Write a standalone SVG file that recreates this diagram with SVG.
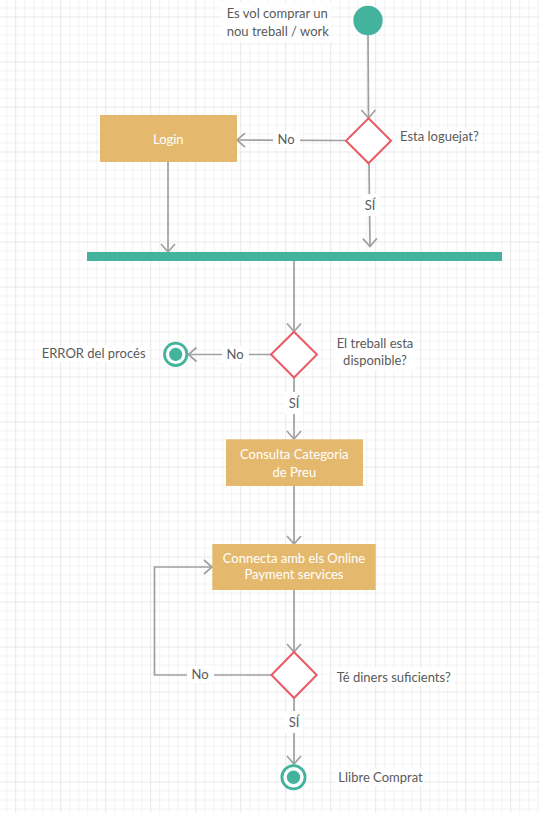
<svg xmlns="http://www.w3.org/2000/svg" width="540" height="813" viewBox="0 0 540 813">
<style>
.t{font-family:Lato,"Open Sans","Liberation Sans",sans-serif;font-size:13px;fill:#5a5a5a}
.w{font-family:Lato,"Open Sans","Liberation Sans",sans-serif;font-size:13px;fill:#fff}
.c{text-anchor:middle}
.bg{fill:#fff}
.box{fill:#E5B96D}
.dia{fill:#fff;stroke:#E85A64;stroke-width:2}
.teal{fill:#44B39D}
.ring{fill:#fff;stroke:#44B39D;stroke-width:2.8}
.arr{fill:none;stroke:#a0a0a0;stroke-width:1.7;marker-end:url(#ah)}
</style>
<defs>
<pattern id="grid" patternUnits="userSpaceOnUse" x="15.2" y="16.5" width="45" height="45">
<rect x="9" y="0" width="1" height="45" fill="#f2f2f2"/>
<rect x="18" y="0" width="1" height="45" fill="#f2f2f2"/>
<rect x="27" y="0" width="1" height="45" fill="#f2f2f2"/>
<rect x="36" y="0" width="1" height="45" fill="#f2f2f2"/>
<rect x="0" y="9" width="45" height="1" fill="#f2f2f2"/>
<rect x="0" y="18" width="45" height="1" fill="#f2f2f2"/>
<rect x="0" y="27" width="45" height="1" fill="#f2f2f2"/>
<rect x="0" y="36" width="45" height="1" fill="#f2f2f2"/>
<rect x="0" y="0" width="1" height="45" fill="#e8e8e8"/>
<rect x="0" y="0" width="45" height="1" fill="#e8e8e8"/>
</pattern>
<marker id="ah" markerUnits="userSpaceOnUse" markerWidth="20" markerHeight="20" viewBox="-10 -10 20 20" refX="0" refY="0" orient="auto">
<path d="M-8,-7 L0,0 L-8,7" fill="none" stroke="#a0a0a0" stroke-width="1.7"/>
</marker>
</defs>
<rect width="540" height="813" fill="#fff"/>
<rect width="540" height="813" fill="url(#grid)"/>

<g id="connectors">
<path class="arr" d="M368,35 L368.5,118"/>
<path class="arr" d="M345.5,140.5 L237,140"/>
<path class="arr" d="M369,163.5 L370,246.5"/>
<path class="arr" d="M168,162 L168,252"/>
<path class="arr" d="M294,261 L294,331.5"/>
<path class="arr" d="M271,354.5 L188.5,354.5"/>
<path class="arr" d="M294,377.5 L294,439"/>
<path class="arr" d="M294,486 L294,544"/>
<path class="arr" d="M294,590 L294,652"/>
<path class="arr" d="M271.5,675 L154.5,675 L154.5,567 L212,567"/>
<path class="arr" d="M294,698 L294,764"/>
<g id="connector-labels">
<rect class="bg" x="273" y="131" width="27" height="17"/>
<text class="t c" x="286" y="144">No</text>
<rect class="bg" x="361" y="194" width="18" height="22"/>
<text class="t c" x="370" y="210">SÍ</text>
<rect class="bg" x="222" y="346" width="27" height="17"/>
<text class="t c" x="235" y="359">No</text>
<rect class="bg" x="285" y="392" width="18" height="22"/>
<text class="t c" x="294" y="407.7">SÍ</text>
<rect class="bg" x="187" y="666" width="27" height="17"/>
<text class="t c" x="200" y="679.3">No</text>
<rect class="bg" x="285" y="711" width="18" height="22"/>
<text class="t c" x="294" y="726.7">SÍ</text>
</g>
</g>

<g id="start">
<rect class="bg" x="221" y="2" width="110" height="40"/>
<text class="t" x="226.7" y="18.3">Es vol comprar un</text>
<text class="t" x="226.7" y="35.5">nou treball / work</text>
<circle class="teal" cx="368" cy="20.5" r="14.7"/>
</g>

<g id="decision-loguejat">
<polygon class="dia" points="368.5,118.3 391,140.8 368.5,163.3 346,140.8"/>
<rect class="bg" x="397" y="128" width="84" height="18"/>
<text class="t" x="400" y="141">Esta loguejat?</text>
</g>

<g id="login">
<rect class="box" x="100" y="115" width="137" height="47"/>
<text class="w c" x="168.3" y="143.5">Login</text>
</g>

<g id="fork-bar">
<rect class="teal" x="87" y="252" width="415" height="9"/>
</g>

<g id="decision-disponible">
<polygon class="dia" points="294,331.7 317,354.5 294,377.5 271,354.5"/>
<rect class="bg" x="334" y="335" width="82" height="35"/>
<text class="t c" x="375" y="347.5">El treball esta</text>
<text class="t c" x="375" y="365">disponible?</text>
</g>

<g id="error-end">
<circle class="ring" cx="175.7" cy="354.3" r="11.2"/>
<circle class="teal" cx="175.7" cy="354.3" r="6.6"/>
<rect class="bg" x="38" y="345" width="108" height="17"/>
<text class="t" x="41.7" y="358">ERROR del procés</text>
</g>

<g id="consulta">
<rect class="box" x="226" y="439.3" width="137" height="46.7"/>
<text class="w c" x="294.3" y="459.3">Consulta Categoria</text>
<text class="w c" x="294.3" y="476.7">de Preu</text>
</g>

<g id="connecta">
<rect class="box" x="212.3" y="544" width="163.4" height="46"/>
<text class="w c" x="294" y="562.7">Connecta amb els Online</text>
<text class="w c" x="294" y="579.3">Payment services</text>
</g>

<g id="decision-diners">
<polygon class="dia" points="294,652 316.7,675 294,698 271.5,675"/>
<rect class="bg" x="333" y="668" width="121" height="18"/>
<text class="t" x="336.7" y="681.7">Té diners suficients?</text>
</g>

<g id="end">
<circle class="ring" cx="293.5" cy="777.3" r="11.6"/>
<circle class="teal" cx="293.5" cy="777.3" r="6.7"/>
<rect class="bg" x="335" y="768" width="89" height="18"/>
<text class="t" x="338.3" y="781.7">Llibre Comprat</text>
</g>
</svg>
